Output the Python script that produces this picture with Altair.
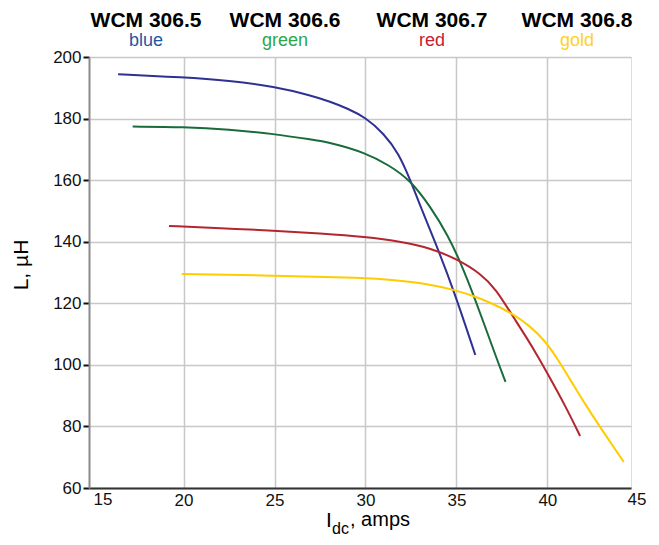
import altair as alt
import pandas as pd

# ---- data ----
models = ["WCM 306.5", "WCM 306.6", "WCM 306.7", "WCM 306.8"]
color_names = ["blue", "green", "red", "gold"]

blue_i = [16.4, 20.0, 22.5, 25.0, 27.0, 28.07, 29.0, 30.0, 31.0, 31.83, 32.47, 33.1, 33.75, 34.85, 36.04]
blue_l = [194.4, 193.4, 192.3, 190.4, 187.5, 185.5, 183.3, 180.4, 175.2, 168.7, 160.0, 150.3, 141.1, 124.4, 103.2]

green_i = [17.2, 20.0, 22.5, 25.0, 27.0, 28.07, 30.0, 31.28, 32.47, 33.57, 34.57, 35.2, 35.95, 37.2, 37.7]
green_l = [177.4, 177.3, 176.5, 175.0, 173.2, 172.2, 168.9, 164.9, 160.0, 151.4, 141.7, 133.6, 122.7, 102.2, 94.5]

red_i = [19.2, 22.0, 25.0, 27.5, 30.0, 32.0, 33.6, 35.04, 36.3, 37.2, 37.97, 38.9, 39.5, 40.0, 41.0, 41.8]
red_l = [145.1, 144.4, 143.6, 142.7, 141.6, 140.0, 137.9, 134.3, 129.8, 124.4, 117.0, 108.5, 102.5, 97.3, 86.6, 76.9]

gold_i = [19.9, 25.0, 30.0, 31.5, 33.57, 34.85, 35.95, 36.87, 38.06, 39.07, 39.89, 40.53, 41.3, 42.0, 43.1, 44.2]
gold_l = [129.5, 129.0, 128.3, 127.6, 126.2, 124.4, 122.4, 120.2, 116.8, 112.5, 107.7, 102.2, 94.8, 87.9, 78.0, 68.5]

x_ticks = [20, 25, 30, 35, 40]
x_edge_labels = ["15", "45"]
y_ticks = [60, 80, 100, 120, 140, 160, 180, 200]

# ---- styles ----
line_colors = ["#2e3192", "#1a6b3c", "#b3262e", "#ffcc00"]
label_colors = ["#1f57a6", "#2aa84a", "#c8202e", "#ffd21a"]
FONT = "Liberation Sans"

rows = []
for name, xs, ys in zip(color_names, [blue_i, green_i, red_i, gold_i],
                        [blue_l, green_l, red_l, gold_l]):
    for k, (a, b) in enumerate(zip(xs, ys)):
        rows.append({"series": name, "order": k, "I": a, "L": b})
df = pd.DataFrame(rows)

W, H = 542, 431
LEFT, TOP = 89, 57  # plot origin on the page


def txt(s, px, py, **kw):
    return alt.Chart(pd.DataFrame({"t": [s]})).mark_text(font=FONT, **kw).encode(
        text="t:N", x=alt.value(px - LEFT), y=alt.value(py - TOP))


lines = alt.Chart(df).mark_line(strokeWidth=2, interpolate="basis").encode(
    x=alt.X("I:Q", scale=alt.Scale(domain=[14.8, 44.6], nice=False, zero=False),
            axis=alt.Axis(values=x_ticks, title=None, ticks=False, labelFontSize=17,
                          labelFont=FONT, labelColor="#111", labelPadding=4,
                          domainColor="#333", domainWidth=2,
                          gridColor="#c8c8c8", gridWidth=1.5, zindex=0)),
    y=alt.Y("L:Q", scale=alt.Scale(domain=[60, 200], nice=False, zero=False),
            axis=alt.Axis(values=y_ticks, title=None, tickColor="#111", tickSize=6,
                          tickWidth=2, labelFontSize=17, labelFont=FONT,
                          labelColor="#111", labelPadding=2,
                          domainColor="#8a8a8a", domainWidth=2,
                          gridColor="#c8c8c8", gridWidth=1.5, zindex=0)),
    color=alt.Color("series:N", scale=alt.Scale(domain=color_names, range=line_colors),
                    legend=None),
    order="order:Q",
    detail="series:N",
)

layers = [lines]

header_x = [146, 285, 432, 577]
for m, cn, lc, hx in zip(models, color_names, label_colors, header_x):
    layers.append(txt(m, hx, 27, fontSize=21, fontWeight="bold", color="#000",
                      align="center", baseline="alphabetic"))
    layers.append(txt(cn, hx, 46, fontSize=18, color=lc,
                      align="center", baseline="alphabetic"))

# end tick labels at the plot edges
for s, px in zip(x_edge_labels, [103, 637]):
    layers.append(txt(s, px, H + TOP + 4, fontSize=17, color="#111",
                      align="center", baseline="top"))

# axis titles
layers.append(txt("L, µH", 22, 265, fontSize=21, color="#000", angle=270,
                  align="center", baseline="middle"))
layers.append(txt("I", 326, 527, fontSize=21, color="#000",
                  align="left", baseline="alphabetic"))
layers.append(txt("dc", 332, 534, fontSize=16, color="#000",
                  align="left", baseline="alphabetic"))
layers.append(txt(", amps", 350, 526, fontSize=20, color="#000",
                  align="left", baseline="alphabetic"))

chart = alt.layer(*layers).properties(
    width=W, height=H,
    autosize=alt.AutoSizeParams(type="none"),
    padding={"left": LEFT - 8, "top": TOP - 8, "right": 20, "bottom": 49},
).configure_view(stroke="#c8c8c8", strokeWidth=1.5).configure(background="white")

chart.save("out.html", embed_options={"renderer": "svg", "actions": False})
